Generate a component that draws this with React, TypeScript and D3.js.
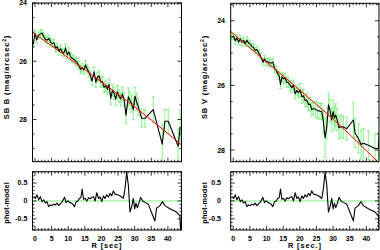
import React from 'react';
import * as d3 from 'd3';

// ---------- data ----------
const xMajorTicks = [0, 5, 10, 15, 20, 25, 30, 35, 40];
const sbTickLabels = [24, 26, 28];
const resTickLabels = [-0.5, 0, 0.5];

// B-band profile
const rB = [-0.5, 0.0, 0.5, 1.0, 1.6, 2.1, 2.6, 3.1, 3.6, 4.2, 4.7, 5.2, 5.7, 6.2, 6.7, 7.2, 7.7, 8.2, 8.7, 9.2, 9.7,
  10.2, 10.7, 11.2, 11.7, 12.2, 12.7, 13.2, 13.7, 14.2, 14.7, 15.2, 15.7, 16.2, 16.7, 17.2, 17.8, 18.3, 18.8, 19.3, 19.8,
  20.3, 20.8, 21.3, 21.8, 22.3, 22.8, 23.3, 23.8, 24.3, 24.8, 25.3, 25.8, 26.3, 26.8, 27.4, 28.1, 28.6, 29.1, 29.6,
  30.1, 30.6, 31.1, 32.1, 33.1, 35.6, 38.3, 39.1, 40.1, 43.1, 43.7];
const magB = [25.42, 25.04, 25.27, 25.12, 25.06, 25.03, 25.15, 25.24, 25.28, 25.22, 25.34, 25.40, 25.36, 25.56, 25.50, 25.65, 25.57, 25.68, 25.72, 25.54, 25.78,
  25.68, 25.84, 25.90, 25.93, 25.99, 26.04, 26.15, 26.28, 26.22, 26.30, 26.13, 26.26, 26.38, 26.50, 26.68, 26.36, 26.72, 26.55, 26.50, 26.72,
  26.70, 26.90, 26.84, 26.96, 26.80, 27.28, 27.00, 27.10, 27.30, 27.05, 27.20, 27.30, 27.12, 27.30, 27.85, 27.22, 27.35, 27.45, 27.66,
  27.20, 27.40, 27.56, 27.96, 27.96, 27.66, 28.85, 28.06, 28.06, 28.92, 28.25];
const errB = [0.12, 0.12, 0.12, 0.12, 0.12, 0.12, 0.12, 0.12, 0.12, 0.12, 0.12, 0.12, 0.12, 0.13, 0.13, 0.13, 0.13, 0.13, 0.13, 0.13, 0.13,
  0.14, 0.14, 0.14, 0.14, 0.14, 0.14, 0.15, 0.15, 0.15, 0.15, 0.15, 0.15, 0.16, 0.16, 0.16, 0.16, 0.17, 0.17, 0.17, 0.18,
  0.18, 0.18, 0.19, 0.19, 0.2, 0.2, 0.2, 0.21, 0.21, 0.22, 0.22, 0.23, 0.23, 0.24, 0.3, 0.3, 0.3, 0.3, 0.35,
  0.3, 0.3, 0.3, 0.3, 0.3, 0.45, 0.7, 0.4, 0.4, 0.6, 0.6];

// model curves
const modelR = [-1, 0, 5, 10, 15, 20, 25, 30, 35, 40, 45];
const modelB = [24.99, 25.07, 25.47, 25.88, 26.29, 26.71, 27.13, 27.57, 28.02, 28.48, 28.96];
const modelV = [24.31, 24.40, 24.84, 25.28, 25.71, 26.15, 26.59, 27.04, 27.52, 28.02, 28.52];

// V-band profile and residuals (phot - model)
const rV = [-0.4, 0.1, 0.6, 1.1, 1.6, 2.1, 2.6, 3.1, 3.6, 4.1, 4.6, 5.1, 5.6, 6.1, 6.6, 7.1, 7.6, 8.1, 8.9, 9.4, 9.9,
  10.4, 10.9, 11.4, 11.9, 12.4, 12.9, 13.4, 13.8, 14.2, 14.6, 15.1, 15.6, 16.1, 16.6, 17.1, 17.6, 18.1, 18.6, 19.1, 19.6,
  20.1, 20.6, 21.1, 21.6, 22.1, 22.6, 23.1, 23.6, 24.1, 24.8, 25.4, 26.1, 26.6, 27.1, 27.6, 28.1, 28.6, 29.1, 29.6,
  30.0, 30.4, 30.8, 31.2, 31.8, 32.4, 33.1, 34.1, 36.1, 36.6, 37.6, 38.4, 39.1, 40.6, 42.6, 43.6, 43.9];
const magV = [24.49, 24.48, 24.62, 24.53, 24.66, 24.56, 24.66, 24.61, 24.70, 24.60, 24.69, 24.72, 24.80, 24.83, 24.92, 24.89, 24.99, 25.07, 25.28, 25.18, 25.27,
  25.27, 25.30, 25.31, 25.28, 25.47, 25.53, 25.65, 25.70, 25.98, 25.73, 25.80, 25.77, 25.90, 25.92, 26.00, 26.07, 25.99, 26.26, 26.15, 26.23,
  26.14, 26.35, 26.32, 26.47, 26.45, 26.59, 26.58, 26.75, 26.71, 26.75, 26.78, 26.80, 26.81, 27.13, 27.62, 27.31, 26.60, 26.79, 27.07,
  26.81, 27.01, 26.92, 27.06, 27.31, 27.27, 27.29, 27.34, 27.07, 27.47, 27.64, 27.83, 27.79, 27.85, 27.95, 27.95, 27.54];
const errV = [0.1, 0.1, 0.1, 0.1, 0.1, 0.1, 0.1, 0.1, 0.1, 0.1, 0.1, 0.1, 0.1, 0.1, 0.1, 0.1, 0.1, 0.1, 0.1, 0.1, 0.1,
  0.12, 0.12, 0.12, 0.12, 0.12, 0.12, 0.12, 0.12, 0.12, 0.12, 0.15, 0.15, 0.15, 0.15, 0.15, 0.15, 0.15, 0.15, 0.15, 0.15,
  0.2, 0.2, 0.2, 0.2, 0.2, 0.2, 0.2, 0.2, 0.2, 0.25, 0.25, 0.25, 0.25, 0.35, 0.6, 0.35, 0.36, 0.35, 0.35,
  0.35, 0.35, 0.35, 0.35, 0.35, 0.35, 0.35, 0.35, 0.55, 0.45, 0.45, 0.45, 0.45, 0.45, 0.45, 0.45, 0.45];
const resid = [0.12, 0.07, 0.17, 0.03, 0.12, -0.02, 0.03, -0.06, -0.02, -0.16, -0.11, -0.13, -0.09, -0.11, -0.06, -0.13, -0.08, -0.04, 0.10, -0.05, 0.0,
  -0.04, -0.06, -0.09, -0.16, -0.02, 0.0, 0.07, 0.09, 0.33, 0.05, 0.07, 0.0, 0.09, 0.06, 0.10, 0.12, 0.0, 0.23, 0.07, 0.11,
  -0.02, 0.14, 0.07, 0.17, 0.11, 0.21, 0.15, 0.28, 0.19, 0.17, 0.15, 0.11, 0.07, 0.35, 0.80, 0.44, -0.31, -0.16, 0.07,
  -0.22, -0.06, -0.19, -0.09, 0.10, 0.0, -0.04, -0.09, -0.56, -0.2, -0.13, -0.02, -0.13, -0.22, -0.31, -0.41, -0.85];

// ---------- drawing ----------
const FONT = "'Liberation Sans', Arial, Helvetica, sans-serif";
const GREEN = '#7cf27c';

type Frame = { x0: number; x1: number; y0: number; y1: number; xd: [number, number]; yd: [number, number] };

function Ticks({ f, xs, ys, yMinorStep, yMajorStep, yStart }: { f: Frame; xs: d3.ScaleLinear<number, number>; ys: d3.ScaleLinear<number, number>; yMinorStep: number; yMajorStep: number; yStart: number }) {
  const xMinor = d3.range(0, 45, 1);
  const lo = Math.min(...f.yd), hi = Math.max(...f.yd);
  const yMinor = d3.range(yStart, hi + 1e-6, yMinorStep).filter(v => v >= lo - 1e-6);
  const segs: JSX.Element[] = [];
  xMinor.forEach((v, i) => {
    if (v < f.xd[0] || v > f.xd[1]) return;
    const L = Math.abs(v % 5) < 1e-6 ? 4 : 2;
    const x = xs(v);
    segs.push(<line key={'xb' + i} x1={x} x2={x} y1={f.y1} y2={f.y1 - L} />);
    segs.push(<line key={'xt' + i} x1={x} x2={x} y1={f.y0} y2={f.y0 + L} />);
  });
  yMinor.forEach((v, i) => {
    const r = v / yMajorStep;
    const L = Math.abs(r - Math.round(r)) < 1e-6 ? 4 : 2;
    const y = ys(v);
    segs.push(<line key={'yl' + i} x1={f.x0} x2={f.x0 + L} y1={y} y2={y} />);
    segs.push(<line key={'yr' + i} x1={f.x1} x2={f.x1 - L} y1={y} y2={y} />);
  });
  return <g stroke="#000" strokeWidth={0.8}>{segs}</g>;
}

function UpperPanel({ f, id, r, mag, err, model, title, labelEnd }: { f: Frame; id: string; r: number[]; mag: number[]; err: number[]; model: number[]; title: string; labelEnd: number }) {
  const xs = d3.scaleLinear().domain(f.xd).range([f.x0, f.x1]);
  const ys = d3.scaleLinear().domain(f.yd).range([f.y0, f.y1]);
  const line = d3.line<number>().x((_, i) => xs(r[i])).y(d => ys(d));
  const mline = d3.line<number>().x((_, i) => xs(modelR[i])).y(d => ys(d));
  const cy = 77;
  return (
    <g>
      <clipPath id={id}><rect x={f.x0} y={f.y0} width={f.x1 - f.x0} height={f.y1 - f.y0} /></clipPath>
      <g clipPath={`url(#${id})`}>
        <g stroke={GREEN} strokeWidth={0.9}>
          {r.map((rv, i) => {
            const x = xs(rv), ya = ys(mag[i] - err[i]), yb = ys(mag[i] + err[i]);
            return (
              <g key={i}>
                <line x1={x} x2={x} y1={ya} y2={yb} />
                <line x1={x - 1.5} x2={x + 1.5} y1={ya} y2={ya} />
                <line x1={x - 1.5} x2={x + 1.5} y1={yb} y2={yb} />
              </g>
            );
          })}
        </g>
        <path d={line(mag) || ''} fill="none" stroke="#000" strokeWidth={1.1} strokeLinejoin="round" />
        <path d={mline(model) || ''} fill="none" stroke="#ff0000" strokeWidth={1} />
      </g>
      <Ticks f={f} xs={xs} ys={ys} yMinorStep={0.5} yMajorStep={2} yStart={23.5} />
      <rect x={f.x0} y={f.y0} width={f.x1 - f.x0} height={f.y1 - f.y0} fill="none" stroke="#000" strokeWidth={1} />
      <g fontFamily={FONT} fontWeight="bold" fontSize={7} textAnchor="end">
        {sbTickLabels.map(v => (
          <text key={v} x={labelEnd} y={ys(v)} dy="0.35em">{v}</text>
        ))}
      </g>
      <text transform={`translate(${f.x0 - 23.5},${cy}) rotate(-90)`} textAnchor="middle" fontFamily={FONT} fontWeight="bold" fontSize={7.6} letterSpacing={0.8}>
        {title}  (mag/arcsec<tspan fontSize={5.2} dy={-3}>2</tspan><tspan dy={3}>)</tspan>
      </text>
    </g>
  );
}

function LowerPanel({ f, id, xlabel, labelEnd }: { f: Frame; id: string; xlabel: string; labelEnd: number }) {
  const xs = d3.scaleLinear().domain(f.xd).range([f.x0, f.x1]);
  const ys = d3.scaleLinear().domain(f.yd).range([f.y0, f.y1]);
  const line = d3.line<number>().x((_, i) => xs(rV[i])).y(d => ys(d));
  return (
    <g>
      <clipPath id={id}><rect x={f.x0} y={f.y0} width={f.x1 - f.x0} height={f.y1 - f.y0} /></clipPath>
      <g clipPath={`url(#${id})`}>
        <line x1={f.x0} x2={f.x1} y1={ys(0)} y2={ys(0)} stroke={GREEN} strokeWidth={1} />
        <path d={line(resid) || ''} fill="none" stroke="#000" strokeWidth={1.1} strokeLinejoin="round" />
      </g>
      <Ticks f={f} xs={xs} ys={ys} yMinorStep={0.1} yMajorStep={0.5} yStart={-0.8} />
      <rect x={f.x0} y={f.y0} width={f.x1 - f.x0} height={f.y1 - f.y0} fill="none" stroke="#000" strokeWidth={1} />
      <g fontFamily={FONT} fontWeight="bold" fontSize={7}>
        {resTickLabels.map(v => (
          <text key={v} x={labelEnd} y={ys(v)} dy="0.35em" textAnchor="end">{v}</text>
        ))}
        {xMajorTicks.map(v => (
          <text key={v} x={xs(v)} y={241} textAnchor="middle">{v}</text>
        ))}
        <text x={(f.x0 + f.x1) / 2} y={247.5} textAnchor="middle" fontSize={7.4} letterSpacing={0.9}>{xlabel}</text>
      </g>
      <text transform={`translate(${f.x0 - 23.5},${(f.y0 + f.y1) / 2 + 2}) rotate(-90)`} textAnchor="middle" fontFamily={FONT} fontWeight="bold" fontSize={7.3} letterSpacing={0.2}>phot-model</text>
    </g>
  );
}

export default function App() {
  const upL: Frame = { x0: 32.5, x1: 181.5, y0: 3, y1: 161.7, xd: [-0.75, 44.1], yd: [24, 29.45] };
  const upR: Frame = { x0: 230.7, x1: 379, y0: 3.3, y1: 161.7, xd: [-0.77, 43.8], yd: [23.46, 28.36] };
  const loL: Frame = { x0: 32.5, x1: 181.5, y0: 171.7, y1: 230, xd: [-0.75, 44.1], yd: [0.815, -0.81] };
  const loR: Frame = { x0: 230.7, x1: 379, y0: 171.7, y1: 230, xd: [-0.77, 43.8], yd: [0.815, -0.81] };
  return (
    <svg width={380} height={250} style={{ position: 'absolute', left: 0, top: 0, background: '#fff' }}>
      <rect width={380} height={250} fill="#fff" />
      <UpperPanel f={upL} id="cB" r={rB} mag={magB} err={errB} model={modelB} title="SB B" labelEnd={27} />
      <UpperPanel f={upR} id="cV" r={rV} mag={magV} err={errV} model={modelV} title="SB V" labelEnd={225} />
      <LowerPanel f={loL} id="rB" xlabel="R [sec]" labelEnd={27.3} />
      <LowerPanel f={loR} id="rV" xlabel="R [sec.]" labelEnd={221} />
    </svg>
  );
}
